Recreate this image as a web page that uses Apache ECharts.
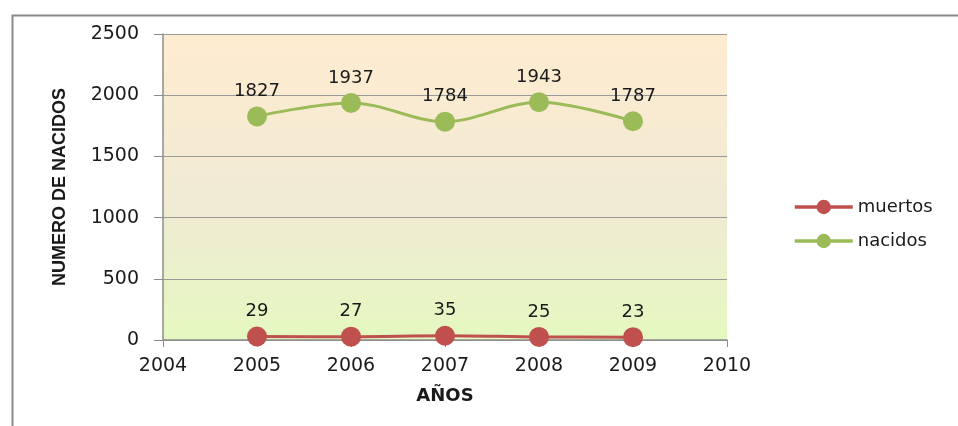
<!DOCTYPE html>
<html>
<head>
<meta charset="utf-8">
<script src="https://cdn.jsdelivr.net/npm/echarts@6/dist/echarts.min.js"></script>
<style>
  html, body { margin: 0; padding: 0; background: #fff; }
  #chart { width: 958px; height: 426px; }
</style>
</head>
<body>
<div id="chart"></div>
<script>
var years = [2005, 2006, 2007, 2008, 2009]
var muertos = [29, 27, 35, 25, 23]
var nacidos = [1827, 1937, 1784, 1943, 1787]

function pairs(vals) {
  return years.map(function (y, i) { return [y, vals[i]] })
}

var chart = echarts.init(document.getElementById('chart'))
var txt = '#1a1a1a'
var font = 'DejaVu Sans'

var option = {
  animation: false,
  textStyle: { fontFamily: font },
  graphic: [{
    type: 'rect',
    left: 10, top: 13,
    shape: { width: 1000, height: 450 },
    style: { fill: 'none', stroke: '#8a8a8a', lineWidth: 2 },
    silent: true
  }],
  grid: {
    left: 163, right: 231, top: 34, bottom: 86,
    show: true,
    borderWidth: 0,
    backgroundColor: new echarts.graphic.LinearGradient(0, 0, 0, 1, [
      { offset: 0, color: '#ffecd0' },
      { offset: 0.55, color: '#f0ead4' },
      { offset: 1, color: '#e5f8c0' }
    ])
  },
  legend: {
    orient: 'vertical',
    left: 788, top: 193,
    itemWidth: 58, itemHeight: 18,
    itemGap: 16,
    lineStyle: { width: 3.5 },
    textStyle: { fontSize: 18, color: txt, fontFamily: font },
    data: ['muertos', 'nacidos']
  },
  xAxis: {
    type: 'value',
    min: 2004, max: 2010, interval: 1,
    name: 'AÑOS',
    nameLocation: 'middle',
    nameGap: 47,
    nameTextStyle: { fontSize: 18, fontWeight: 'bold', color: txt },
    axisLine: { show: true, lineStyle: { color: '#8c8c8c', width: 1.5 } },
    axisTick: { show: true, length: 7, lineStyle: { color: '#8c8c8c' } },
    axisLabel: { fontSize: 19, color: txt, margin: 17, formatter: function (v) { return String(v) } },
    splitLine: { show: false }
  },
  yAxis: {
    type: 'value',
    min: 0, max: 2500, interval: 500,
    name: 'NUMERO DE NACIDOS',
    nameLocation: 'middle',
    nameRotate: 90,
    nameGap: 94,
    nameTextStyle: { fontSize: 18, fontWeight: 'bold', color: txt, fontFamily: 'Liberation Sans Narrow, Liberation Sans, sans-serif' },
    axisLine: { show: true, lineStyle: { color: '#8c8c8c', width: 1.5 } },
    axisTick: { show: true, length: 9, lineStyle: { color: '#8c8c8c' } },
    axisLabel: { fontSize: 19, color: txt, margin: 24, formatter: function (v) { return String(v) } },
    splitLine: { show: true, lineStyle: { color: '#9a9a9a', width: 1 } }
  },
  series: [{
    name: 'muertos',
    type: 'line',
    data: pairs(muertos),
    smooth: 0.35,
    symbol: 'circle',
    symbolSize: 20,
    color: '#c0504d',
    lineStyle: { width: 3, color: '#c0504d' },
    label: { show: true, position: 'top', distance: 6, fontSize: 18, color: txt }
  }, {
    name: 'nacidos',
    type: 'line',
    data: pairs(nacidos),
    smooth: 0.35,
    symbol: 'circle',
    symbolSize: 20,
    color: '#9bbb59',
    lineStyle: { width: 3, color: '#9bbb59' },
    label: { show: true, position: 'top', distance: 6, fontSize: 18, color: txt }
  }]
}

chart.setOption(option)
</script>
</body>
</html>
